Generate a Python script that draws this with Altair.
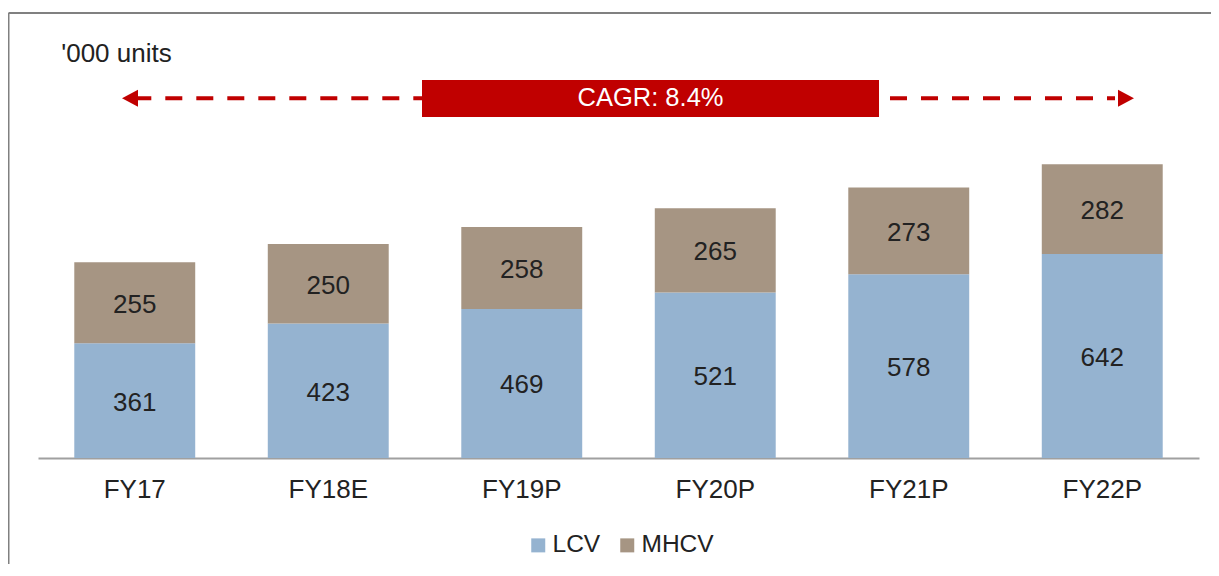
import altair as alt
import pandas as pd

FONT = "Liberation Sans"

categories = ["FY17", "FY18E", "FY19P", "FY20P", "FY21P", "FY22P"]
lcv = [361, 423, 469, 521, 578, 642]
mhcv = [255, 250, 258, 265, 273, 282]
series = ["LCV", "MHCV"]
colors = ["#95B3D0", "#A69583"]

cagr_label = "CAGR: 8.4%"
unit_label = "'000 units"

# annotation positions in data units (x: band index 0..6, y: '000 units)
arrow_y = 1132
left_rule_x = [0.4977, 1.9845]
right_rule_x = [4.4031, 5.566]
head_x = [0.4755, 5.6227]
head_shape = ["M-0.94,0L0.94,-1L0.94,1Z", "M0.94,0L-0.94,-1L-0.94,1Z"]
box_x = [1.9845, 4.3463]
box_y = [1073, 1189]
cagr_x = 3.1654
unit_x = 0.12
unit_y = 1271

rows = []
for c, l, m in zip(categories, lcv, mhcv):
    rows.append(dict(cat=c, series="LCV", value=l, lo=0, hi=l, mid=l / 2))
    rows.append(dict(cat=c, series="MHCV", value=m, lo=l, hi=l + m, mid=l + m / 2))
df = pd.DataFrame(rows)

W, H = 1161, 445
ys = alt.Scale(domain=[0, 1400], nice=False, zero=True)
xb_scale = alt.Scale(domain=categories, paddingInner=0.375, paddingOuter=0.1875)
xq_scale = alt.Scale(domain=[0, 6], nice=False, zero=False)

bars = alt.Chart(df).mark_bar().encode(
    x=alt.X("cat:N", sort=categories, scale=xb_scale,
            axis=alt.Axis(title=None, labelAngle=0, ticks=False, domainColor="#A0A0A0",
                          domainWidth=2, labelFontSize=26, labelColor="#222222",
                          labelPadding=18, labelFont=FONT, grid=False)),
    y=alt.Y("lo:Q", scale=ys, axis=None),
    y2="hi:Q",
    color=alt.Color("series:N", scale=alt.Scale(domain=series, range=colors),
                    legend=alt.Legend(orient="none", legendX=488, legendY=520,
                                      direction="horizontal", title=None,
                                      symbolType="square", symbolSize=196,
                                      symbolStrokeWidth=0, labelFontSize=24.5,
                                      labelFont=FONT, labelColor="#222222",
                                      labelOffset=2, columnPadding=14, padding=0)),
)

labels = alt.Chart(df).mark_text(fontSize=26, color="#222222", font=FONT, dy=2).encode(
    x=alt.X("cat:N", sort=categories, scale=xb_scale),
    y=alt.Y("mid:Q", scale=ys, axis=None),
    text="value:Q",
)

main = alt.layer(bars, labels)

rule_df = pd.DataFrame({"x": [left_rule_x[0], right_rule_x[0]],
                        "x2": [left_rule_x[1], right_rule_x[1]],
                        "y": [arrow_y, arrow_y]})
rules = alt.Chart(rule_df).mark_rule(color="#C00000", strokeWidth=4, strokeDash=[17, 14]).encode(
    x=alt.X("x:Q", scale=xq_scale, axis=None), x2="x2:Q",
    y=alt.Y("y:Q", scale=ys, axis=None),
)

head_df = pd.DataFrame({"x": head_x, "y": [arrow_y, arrow_y], "shape": head_shape})
heads = alt.Chart(head_df).mark_point(filled=True, size=289, color="#C00000", opacity=1).encode(
    x=alt.X("x:Q", scale=xq_scale, axis=None),
    y=alt.Y("y:Q", scale=ys, axis=None),
    shape=alt.Shape("shape:N", scale=None, legend=None),
)

box_df = pd.DataFrame({"x": [box_x[0]], "x2": [box_x[1]], "y": [box_y[0]], "y2": [box_y[1]]})
box = alt.Chart(box_df).mark_rect(color="#C00000").encode(
    x=alt.X("x:Q", scale=xq_scale, axis=None), x2="x2:Q",
    y=alt.Y("y:Q", scale=ys, axis=None), y2="y2:Q",
)

cagr_df = pd.DataFrame({"x": [cagr_x], "y": [arrow_y], "t": [cagr_label]})
cagr = alt.Chart(cagr_df).mark_text(fontSize=25.5, color="white", font=FONT).encode(
    x=alt.X("x:Q", scale=xq_scale, axis=None),
    y=alt.Y("y:Q", scale=ys, axis=None),
    text="t:N",
)

unit_df = pd.DataFrame({"x": [unit_x], "y": [unit_y], "t": [unit_label]})
unit = alt.Chart(unit_df).mark_text(fontSize=26, color="#222222", font=FONT, align="left").encode(
    x=alt.X("x:Q", scale=xq_scale, axis=None),
    y=alt.Y("y:Q", scale=ys, axis=None),
    text="t:N",
)

frame_df = pd.DataFrame({"k": [0]})
frame_top = alt.Chart(frame_df).mark_rule(color="#808080", strokeWidth=2).encode(
    x=alt.value(-29.5), x2=alt.value(W + 60), y=alt.value(0)
)
frame_left = alt.Chart(frame_df).mark_rule(color="#808080", strokeWidth=2).encode(
    x=alt.value(-29.5), y=alt.value(0), y2=alt.value(H + 200)
)

annot = alt.layer(rules, heads, box, cagr, unit, frame_top, frame_left)

chart = alt.layer(main, annot).resolve_scale(x="independent", shape="independent").properties(
    width=W, height=H,
    autosize=alt.AutoSizeParams(type="none"),
    padding={"left": 30, "top": 5, "right": 12, "bottom": 106},
).configure(font=FONT).configure_view(strokeWidth=0, stroke="transparent")

chart.save("out.html", embed_options={"renderer": "svg", "actions": False})
